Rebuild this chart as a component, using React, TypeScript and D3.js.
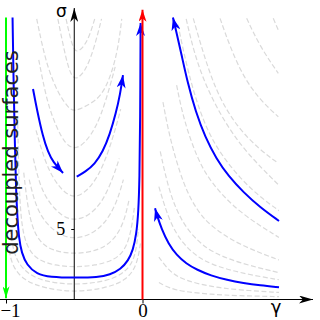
import React, { useEffect, useRef } from 'react';
import * as d3 from 'd3';

type Pt = [number, number];

// flow lines as [gamma, sigma] pairs
const blueU: Pt[] = [
  [-0.952, 20.0], [-0.945, 15.6], [-0.935, 11.0], [-0.927, 8.0], [-0.918, 6.0],
  [-0.905, 4.3], [-0.885, 3.3], [-0.848, 2.45], [-0.775, 1.8], [-0.678, 1.59],
  [-0.498, 1.54], [-0.326, 1.57], [-0.238, 1.76], [-0.16, 2.15], [-0.105, 2.75],
  [-0.07, 3.5], [-0.045, 4.6], [-0.03, 6.2], [-0.022, 8.5], [-0.017, 12.5], [-0.014, 19.61],
];
const blueTopLeft: Pt[] = [
  [-0.802, 14.93], [-0.773, 13.44], [-0.729, 11.52], [-0.692, 10.46], [-0.656, 9.75], [-0.582, 8.97],
];
const blueMiddle: Pt[] = [
  [-0.482, 8.71], [-0.42, 9.05], [-0.35, 9.6], [-0.29, 10.5], [-0.24, 11.7],
  [-0.195, 13.2], [-0.163, 14.6], [-0.143, 15.92],
];
const blueUpperRight: Pt[] = [
  [1.0, 5.57], [0.86, 6.55], [0.74, 7.6], [0.63, 8.75], [0.54, 10.0], [0.46, 11.5],
  [0.39, 13.3], [0.33, 15.4], [0.285, 17.4], [0.25, 18.9], [0.223, 20.0],
];
const blueLowerRight: Pt[] = [
  [1.0, 0.87], [0.86, 1.0], [0.74, 1.16], [0.62, 1.38], [0.5, 1.7], [0.4, 2.1],
  [0.32, 2.55], [0.25, 3.15], [0.19, 3.95], [0.14, 5.0], [0.105, 6.0], [0.092, 6.47],
];
const redLine: Pt[] = [[0, 0], [0, 20.55]];
const greenLine: Pt[] = [[-1, 20], [-1, 0.08]];

const grayLeft: Pt[][] = [
  [[-0.985, 4.0], [-0.96, 2.4], [-0.87, 1.35], [-0.72, 0.8], [-0.5, 0.5], [-0.27, 0.8], [-0.12, 1.35], [-0.04, 2.4], [-0.015, 4.0]],
  [[-0.97, 5.0], [-0.94, 3.0], [-0.86, 1.95], [-0.74, 1.3], [-0.5, 1.0], [-0.25, 1.3], [-0.12, 1.95], [-0.05, 3.0], [-0.03, 5.0]],
  [[-0.915, 13.0], [-0.905, 8.0], [-0.885, 5.0], [-0.84, 3.6], [-0.77, 2.8], [-0.64, 2.4], [-0.5, 2.3], [-0.35, 2.4], [-0.2, 2.8], [-0.12, 3.6], [-0.08, 5.0], [-0.06, 6.5]],
  [[-0.87, 9.0], [-0.83, 5.6], [-0.76, 4.1], [-0.66, 3.45], [-0.5, 3.2], [-0.33, 3.45], [-0.22, 4.1], [-0.14, 5.3], [-0.1, 7.0]],
  [[-0.83, 8.5], [-0.78, 6.5], [-0.7, 5.3], [-0.6, 4.55], [-0.5, 4.3], [-0.39, 4.55], [-0.28, 5.3], [-0.19, 6.8], [-0.14, 8.5]],
  [[-0.8, 10.0], [-0.75, 8.0], [-0.68, 6.8], [-0.59, 5.9], [-0.5, 5.6], [-0.4, 5.9], [-0.3, 6.8], [-0.22, 8.5], [-0.17, 10.0]],
  [[-0.78, 12.0], [-0.71, 9.6], [-0.62, 8.0], [-0.5, 7.0], [-0.37, 8.0], [-0.28, 9.6], [-0.2, 12.0], [-0.16, 13.5]],
  [[-0.76, 17.0], [-0.7, 14.0], [-0.63, 12.2], [-0.57, 11.1], [-0.5, 10.6], [-0.42, 11.1], [-0.34, 12.2], [-0.27, 14.0], [-0.2, 16.5]],
  [[-0.775, 19.9], [-0.739, 18.2], [-0.69, 16.3], [-0.617, 14.6], [-0.544, 13.6], [-0.5, 13.3], [-0.397, 13.8], [-0.3, 14.4], [-0.226, 16.0], [-0.177, 17.9], [-0.152, 19.9]],
  [[-0.62, 19.9], [-0.56, 17.0], [-0.52, 15.8], [-0.48, 15.6], [-0.42, 16.2], [-0.36, 17.6], [-0.3, 19.9]],
  [[-0.56, 19.9], [-0.51, 17.7], [-0.47, 17.5], [-0.4, 18.3], [-0.35, 19.9]],
];

const grayRight: Pt[][] = [
  [[0.12, 1.2], [0.2, 0.79], [0.3, 0.56], [0.5, 0.36], [0.7, 0.27], [1.0, 0.2]],
  [[0.12, 3.0], [0.2, 1.95], [0.3, 1.38], [0.5, 0.9], [0.7, 0.68], [1.0, 0.5]],
  [[0.12, 8.0], [0.2, 5.4], [0.3, 3.9], [0.4, 3.05], [0.5, 2.5], [0.7, 1.9], [1.0, 1.4]],
  [[0.13, 10.5], [0.2, 7.4], [0.3, 5.3], [0.4, 4.2], [0.5, 3.4], [0.7, 2.6], [1.0, 1.9]],
  [[0.15, 14.0], [0.2, 11.4], [0.3, 8.1], [0.4, 6.3], [0.5, 5.2], [0.7, 3.9], [1.0, 2.8]],
  [[0.25, 15.2], [0.3, 12.8], [0.4, 10.0], [0.5, 8.3], [0.7, 6.2], [1.0, 4.4]],
  [[0.26, 19.5], [0.3, 17.6], [0.37, 14.8], [0.47, 12.0], [0.6, 9.9], [0.8, 7.7], [1.0, 6.3]],
  [[0.32, 19.9], [0.38, 17.4], [0.47, 15.0], [0.6, 12.6], [0.76, 10.4], [1.0, 8.1]],
  [[0.372, 19.94], [0.445, 17.46], [0.544, 14.62], [0.69, 12.25], [0.861, 10.6], [0.995, 9.66]],
  [[0.568, 19.94], [0.641, 17.93], [0.738, 15.8], [0.861, 14.15], [0.995, 12.96]],
  [[0.763, 19.94], [0.861, 17.93], [0.995, 16.04]],
  [[0.958, 19.94], [0.995, 19.1]],
];

const xTicks = [-1, 0];
const xTickLabels = ['\u22121', '0'];
const yTicks = [5];

const App = () => {
  const svgRef = useRef<SVGSVGElement>(null);

  useEffect(() => {
    const svg = d3.select(svgRef.current);
    svg.selectAll('*').remove();

    const x = d3.scaleLinear().domain([-1, 1]).range([6, 279]);
    const y = d3.scaleLinear().domain([0, 20]).range([299.5, 17.5]);

    const defs = svg.append('defs');
    const addArrow = (id: string, color: string, len: number, half: number) => {
      defs
        .append('marker')
        .attr('id', id)
        .attr('viewBox', `${-len} ${-half} ${len} ${half * 2}`)
        .attr('refX', 0)
        .attr('refY', 0)
        .attr('markerWidth', len)
        .attr('markerHeight', half * 2)
        .attr('markerUnits', 'userSpaceOnUse')
        .attr('orient', 'auto')
        .append('path')
        .attr('d', `M0,0 L${-len},${-half} L${-len * 0.72},0 L${-len},${half} Z`)
        .attr('fill', color);
    };
    addArrow('arr-blue', '#0000ff', 13, 4.5);
    addArrow('arr-red', '#ff0000', 12, 4);
    addArrow('arr-green', '#00ff00', 12, 3.5);
    addArrow('arr-black', '#000', 14, 4);

    defs
      .append('clipPath')
      .attr('id', 'plot-clip')
      .append('rect')
      .attr('x', x(-1))
      .attr('y', y(20))
      .attr('width', x(1) - x(-1))
      .attr('height', y(0) - y(20));

    const line = d3
      .line<Pt>()
      .x(d => x(d[0]))
      .y(d => y(d[1]))
      .curve(d3.curveBasis);

    // faint background flow
    svg
      .append('g')
      .attr('clip-path', 'url(#plot-clip)')
      .selectAll('path')
      .data([...grayLeft, ...grayRight])
      .enter()
      .append('path')
      .attr('d', line)
      .attr('fill', 'none')
      .attr('stroke', '#dadada')
      .attr('stroke-width', 1.2)
      .attr('stroke-dasharray', '5,2.5');

    // axes
    const x0 = x(-0.5);
    const y0 = y(0);
    svg.append('line')
      .attr('x1', 0).attr('y1', y0).attr('x2', 313).attr('y2', y0)
      .attr('stroke', '#000').attr('stroke-width', 1)
      .attr('marker-end', 'url(#arr-black)');
    svg.append('line')
      .attr('x1', x0).attr('y1', y0).attr('x2', x0).attr('y2', 8)
      .attr('stroke', '#000').attr('stroke-width', 1)
      .attr('marker-end', 'url(#arr-black)');

    const gx = svg
      .append('g')
      .attr('transform', `translate(0,${y0})`)
      .call(
        d3.axisBottom(x)
          .tickValues(xTicks)
          .tickSize(4)
          .tickPadding(0)
          .tickFormat((d, i) => xTickLabels[i])
      );
    gx.select('.domain').remove();
    gx.selectAll('line').attr('stroke', '#000');
    gx.selectAll('text')
      .attr('font-family', '"Liberation Serif", serif')
      .attr('font-size', 19)
      .attr('fill', '#000')
      .attr('dx', (d: any) => (d === -1 ? 4 : 0));

    const gy = svg
      .append('g')
      .attr('transform', `translate(${x0},0)`)
      .call(d3.axisLeft(y).tickValues(yTicks).tickSize(3).tickPadding(6));
    gy.select('.domain').remove();
    gy.selectAll('line').attr('stroke', '#000');
    gy.selectAll('text')
      .attr('font-family', '"Liberation Serif", serif')
      .attr('font-size', 18)
      .attr('fill', '#000');

    svg.append('text')
      .attr('x', x0 - 7.5).attr('y', 16.5)
      .attr('text-anchor', 'end')
      .attr('font-family', '"DejaVu Sans", sans-serif')
      .attr('font-size', 17)
      .text('σ');
    svg.append('text')
      .attr('x', 276).attr('y', 313)
      .attr('text-anchor', 'middle')
      .attr('font-family', '"DejaVu Sans", sans-serif')
      .attr('font-size', 18)
      .text('γ');

    // highlighted flow lines
    svg
      .append('g')
      .selectAll('path')
      .data([blueU, blueTopLeft, blueMiddle, blueUpperRight, blueLowerRight])
      .enter()
      .append('path')
      .attr('d', line)
      .attr('fill', 'none')
      .attr('stroke', '#0000ff')
      .attr('stroke-width', 2)
      .attr('marker-end', 'url(#arr-blue)');

    const straight = d3.line<Pt>().x(d => x(d[0])).y(d => y(d[1]));
    svg.append('path')
      .attr('d', straight(redLine))
      .attr('fill', 'none')
      .attr('stroke', '#ff0000')
      .attr('stroke-width', 2)
      .attr('marker-end', 'url(#arr-red)');
    svg.append('path')
      .attr('d', straight(greenLine))
      .attr('fill', 'none')
      .attr('stroke', '#00ff00')
      .attr('stroke-width', 2)
      .attr('marker-end', 'url(#arr-green)');

    svg.append('text')
      .attr('transform', 'translate(17.5,152.5) rotate(-90)')
      .attr('text-anchor', 'middle')
      .attr('font-family', '"DejaVu Sans", sans-serif')
      .attr('font-size', 21)
      .attr('fill', '#222')
      .text('decoupled surfaces');
  }, []);

  return (
    <svg
      ref={svgRef}
      width={320}
      height={320}
      style={{ position: 'absolute', left: 0, top: 0, background: '#fff' }}
    />
  );
};

export default App;
